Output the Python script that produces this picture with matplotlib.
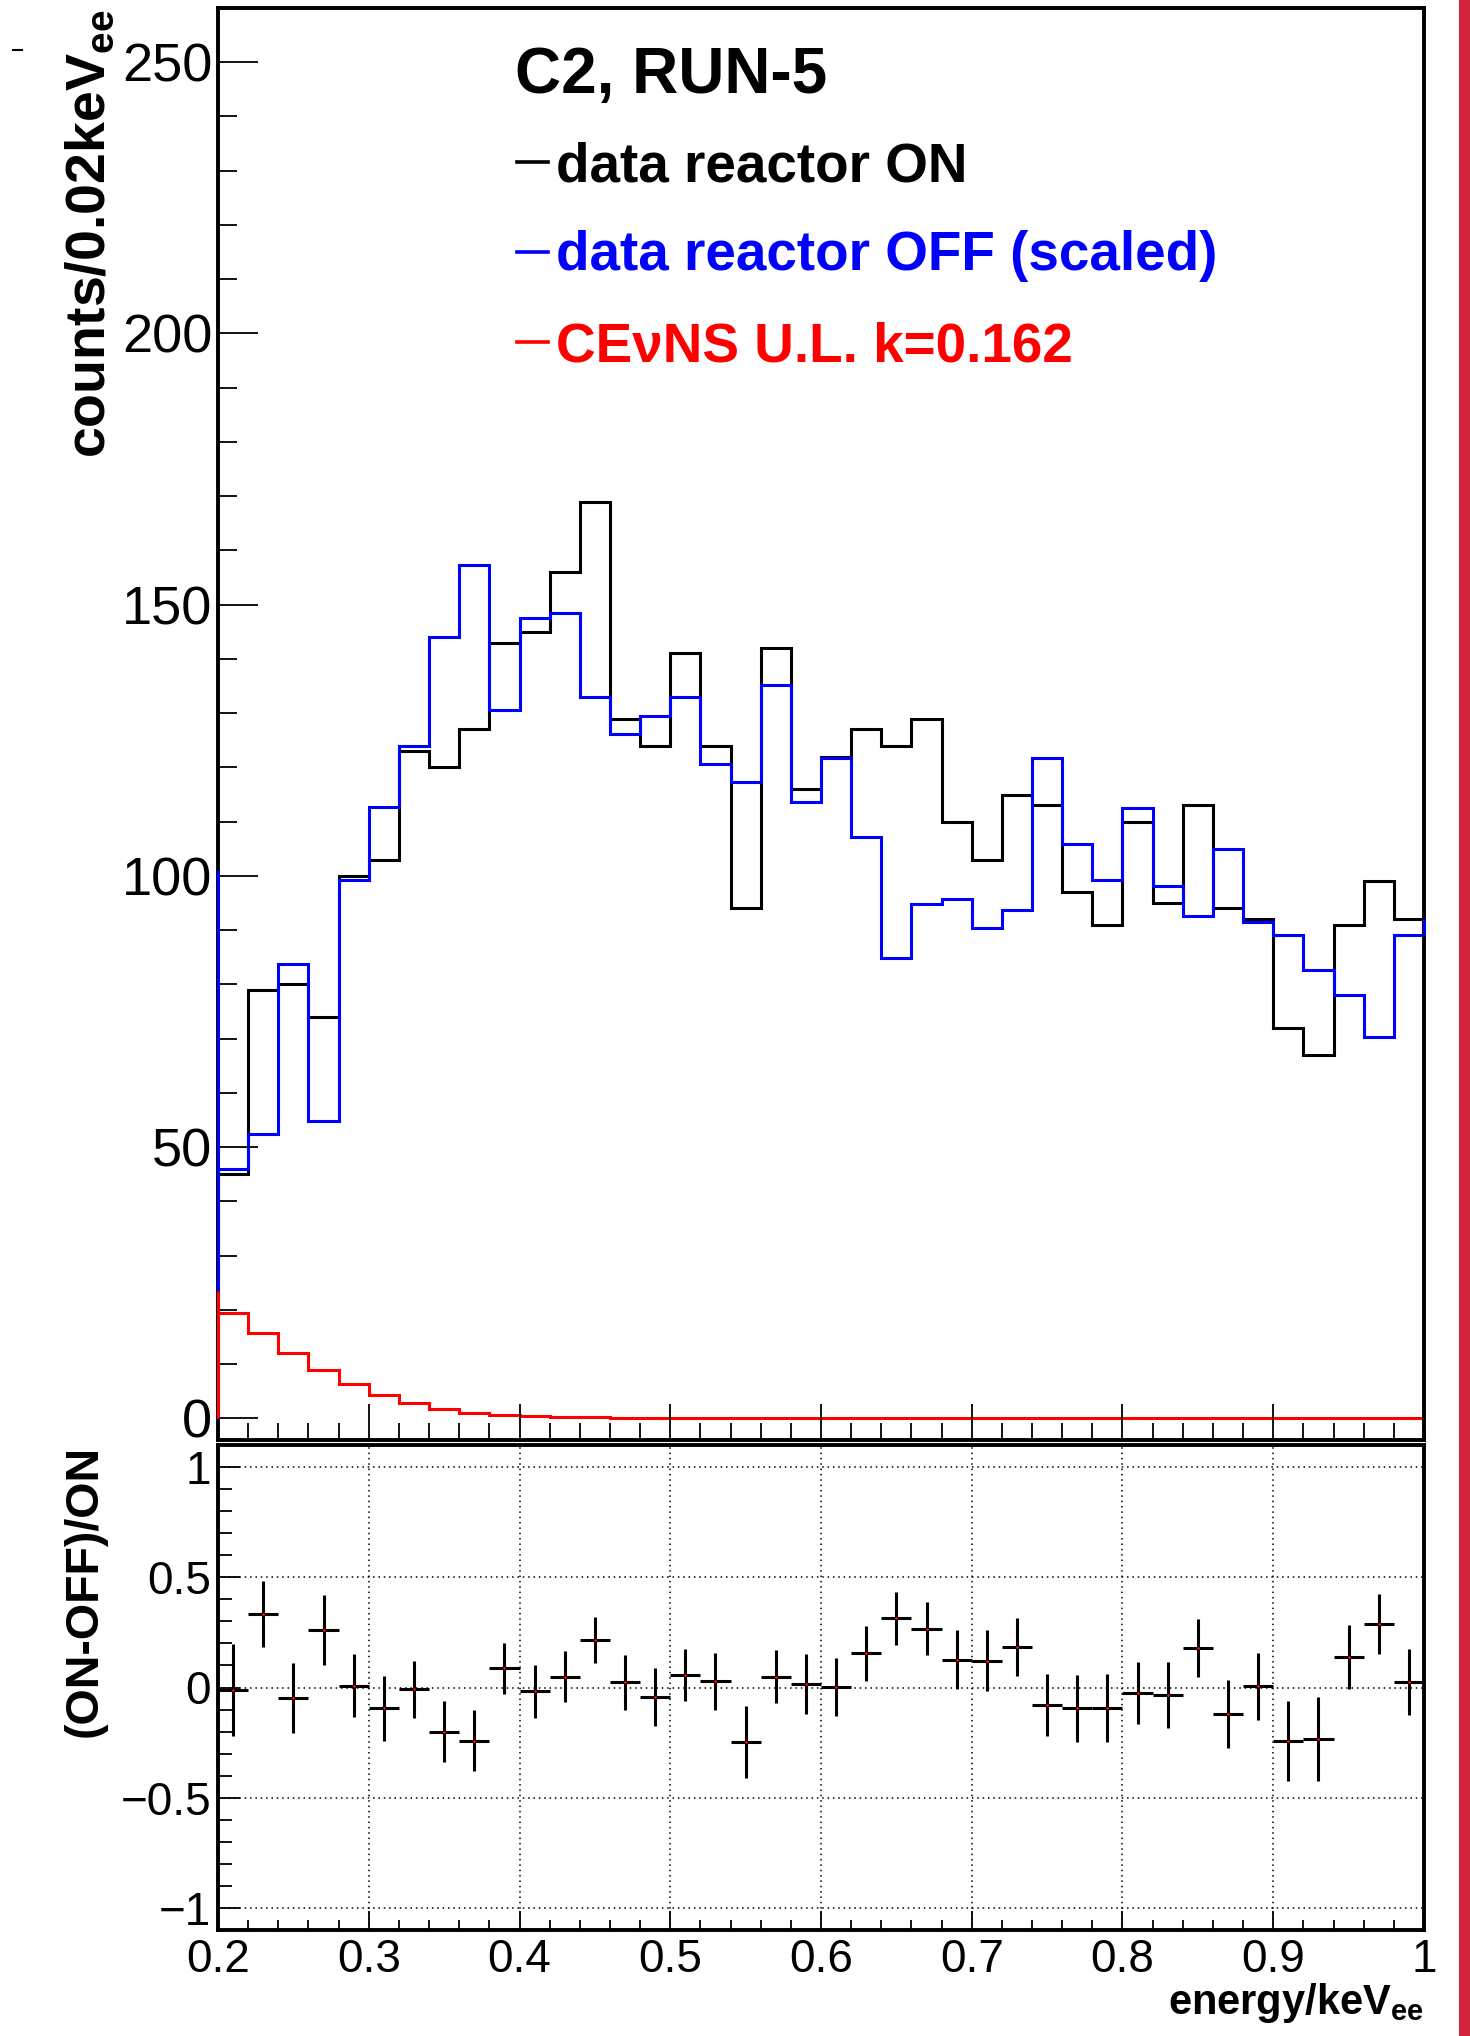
import numpy as np
import matplotlib
matplotlib.use('Agg')
import matplotlib.pyplot as plt
from matplotlib.ticker import MultipleLocator, FixedLocator, FixedFormatter

plt.rcParams['font.family'] = ['Liberation Sans', 'DejaVu Sans']
plt.rcParams['mathtext.fontset'] = 'custom'
plt.rcParams['mathtext.rm'] = 'Liberation Sans'
plt.rcParams['mathtext.bf'] = 'Liberation Sans:bold'

# ---- data (bins of 0.02 keVee from 0.2 to 1.0) ----
on_counts = [45, 79, 80, 74, 100, 103, 123, 120, 127, 143,
             145, 156, 169, 129, 124, 141, 124, 94, 142, 116,
             122, 127, 124, 129, 110, 103, 115, 113, 97, 91,
             110, 95, 113, 94, 92, 72, 67, 91, 99, 92]
off_counts = [45.9, 52.5, 83.7, 54.8, 99.2, 112.7, 124, 144, 157.3, 130.6,
              147.5, 148.4, 132.9, 126.2, 129.4, 132.9, 120.6, 117.3, 135.1, 113.7,
              121.8, 107.2, 84.8, 94.8, 95.8, 90.4, 93.7, 121.7, 105.9, 99.3,
              112.6, 98.2, 92.6, 104.9, 91.5, 89.1, 82.6, 78.1, 70.3, 89.1]
cevns = [19.5, 15.8, 12.1, 8.9, 6.3, 4.3, 2.8, 1.66, 1.05, 0.62,
         0.43, 0.25, 0.18, 0.12, 0.09, 0.06, 0.04, 0.03, 0.02, 0.015,
         0.01, 0.01, 0.01, 0.01, 0.01, 0.01, 0.01, 0.01, 0.01, 0.01,
         0.01, 0.01, 0.01, 0.01, 0.01, 0.01, 0.01, 0.01, 0.01, 0.01]
# where the outlines start at 0.2 / end at 1.0 (neighbouring bins)
edge_on, edge_off, edge_cevns = 45, 101, 23.4
right_off = 92

ratio = [-0.012, 0.335, -0.047, 0.26, 0.009, -0.095, -0.009, -0.2, -0.241, 0.087,
         -0.017, 0.049, 0.214, 0.023, -0.043, 0.057, 0.028, -0.247, 0.049, 0.017,
         0.002, 0.156, 0.314, 0.266, 0.127, 0.122, 0.184, -0.078, -0.094, -0.094,
         -0.026, -0.035, 0.179, -0.12, 0.005, -0.241, -0.233, 0.139, 0.288, 0.026]
ratio_err = [0.21, 0.15, 0.16, 0.16, 0.144, 0.148, 0.13, 0.139, 0.138, 0.117,
             0.12, 0.115, 0.104, 0.126, 0.13, 0.117, 0.13, 0.162, 0.119, 0.135,
             0.13, 0.125, 0.12, 0.12, 0.134, 0.139, 0.13, 0.14, 0.152, 0.155,
             0.14, 0.15, 0.132, 0.154, 0.152, 0.182, 0.19, 0.146, 0.136, 0.15]

edges = np.linspace(0.2, 1.0, 41)
centers = 0.5 * (edges[:-1] + edges[1:])
half_w = 0.5 * (edges[1] - edges[0])

W, H = 1470, 2036
fig = plt.figure(figsize=(W / 100, H / 100), dpi=100)

# pixel boxes of the two pads
def box(x0, x1, ytop, ybot):
    return [x0 / W, 1 - ybot / H, (x1 - x0) / W, (ybot - ytop) / H]

ax = fig.add_axes(box(218, 1424, 8, 1440))
ax2 = fig.add_axes(box(218, 1424, 1445, 1930))

lw = 2.2
ax.stairs(on_counts, edges, baseline=None, color='black', lw=lw)
ax.stairs(off_counts, edges, baseline=None, color='blue', lw=lw)
ax.stairs(cevns, edges, baseline=None, color='red', lw=lw)
ax.vlines(edges[0], 0, edge_on, color='black', lw=lw, clip_on=False, zorder=3)
ax.vlines(edges[0], 0, edge_off, color='blue', lw=lw, clip_on=False, zorder=3)
ax.vlines(edges[0], 0, edge_cevns, color='red', lw=lw, clip_on=False, zorder=3.1)
ax.vlines(edges[-1], off_counts[-1], right_off, color='blue', lw=lw, clip_on=False, zorder=3)

ax.set_xlim(0.2, 1.0)
ax.set_ylim(-4, 260)

ax.xaxis.set_major_locator(MultipleLocator(0.1))
ax.xaxis.set_minor_locator(MultipleLocator(0.02))
ax.yaxis.set_major_locator(MultipleLocator(50))
ax.yaxis.set_minor_locator(MultipleLocator(10))
ax.tick_params(axis='x', which='both', direction='in', labelbottom=False, width=1.3)
ax.tick_params(axis='x', which='major', length=26)
ax.tick_params(axis='x', which='minor', length=12)
ax.tick_params(axis='y', which='both', direction='in', width=1.3, labelsize=39, pad=4)
ax.tick_params(axis='y', which='major', length=29)
ax.tick_params(axis='y', which='minor', length=14)

# legend / title as text
ax.text(0.246, 0.9406, 'C2, RUN-5', transform=ax.transAxes, fontsize=46,
        fontweight='bold', ha='left', va='baseline')
leg = [('data reactor ON', 'black', 0.8927, 0.8787),
       ('data reactor OFF (scaled)', 'blue', 0.8298, 0.8170),
       ('CE\u03bdNS U.L. k=0.162', 'red', 0.767, 0.7530)]
for label, col, yl, yt in leg:
    ax.plot([0.248, 0.2736], [yl, yl], color=col, lw=2.6, transform=ax.transAxes)
    ax.text(0.280, yt, label, color=col, transform=ax.transAxes, fontsize=39.5,
            fontweight='bold', ha='left', va='baseline')

# ratio pad
ax2.errorbar(centers, ratio, yerr=ratio_err, xerr=half_w, fmt='none',
             ecolor='black', elinewidth=lw, capsize=0)
ax2.plot(centers, ratio, '.', color='red', ms=2)
ax2.set_xlim(0.2, 1.0)
ax2.set_ylim(-1.1, 1.1)
ax2.xaxis.set_major_locator(FixedLocator([0.2, 0.3, 0.4, 0.5, 0.6, 0.7, 0.8, 0.9, 1.0]))
ax2.xaxis.set_major_formatter(FixedFormatter(['0.2', '0.3', '0.4', '0.5', '0.6',
                                              '0.7', '0.8', '0.9', '1']))
ax2.xaxis.set_minor_locator(MultipleLocator(0.02))
ax2.yaxis.set_major_locator(FixedLocator([-1, -0.5, 0, 0.5, 1]))
ax2.yaxis.set_major_formatter(FixedFormatter(['\u22121', '\u22120.5', '0', '0.5', '1']))
ax2.yaxis.set_minor_locator(MultipleLocator(0.1))
ax2.tick_params(axis='both', which='both', direction='in', width=1.3)
ax2.tick_params(axis='x', which='major', length=14, labelsize=33, pad=6)
ax2.tick_params(axis='x', which='minor', length=7)
ax2.tick_params(axis='y', which='major', length=16, labelsize=33, pad=5)
ax2.tick_params(axis='y', which='minor', length=10)
ax2.grid(True, which='major', color='black', ls=(0, (1, 2.5)), lw=1.1)

for a in (ax, ax2):
    for s in a.spines.values():
        s.set_linewidth(2.8)

# axis titles
fig.text(117 / W, 1 - 10 / H, r'counts/0.02keV$_{\mathbf{ee}}$', rotation=90,
         ha='right', va='top', fontsize=40, fontweight='bold')
fig.text(107 / W, 1 - 1445 / H, '(ON-OFF)/ON', rotation=90,
         ha='right', va='top', fontsize=33.5, fontweight='bold')
fig.text(1424 / W, 1 - 2014 / H, r'energy/keV$_{\mathbf{ee}}$',
         ha='right', va='baseline', fontsize=30, fontweight='bold')

# stray mark top-left and the red strip on the right edge
fig.add_artist(plt.Line2D([13 / W, 22 / W], [1 - 49.5 / H] * 2, color='black', lw=1.5))
fig.add_artist(plt.Rectangle((1459 / W, 0), 11 / W, 1, transform=fig.transFigure,
                             color='#d3223c', lw=0))

fig.savefig('out.png', dpi=100)
